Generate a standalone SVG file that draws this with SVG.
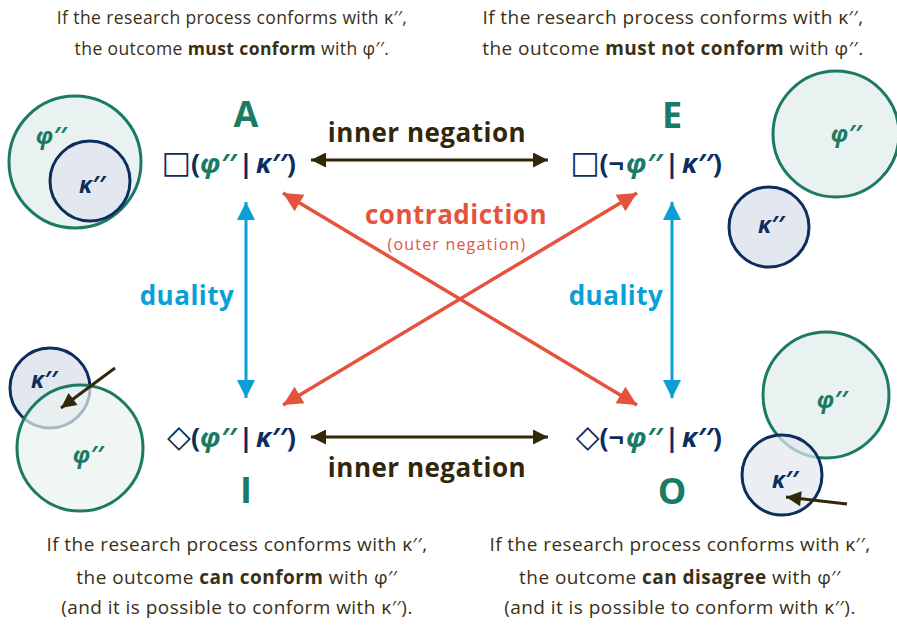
<svg xmlns="http://www.w3.org/2000/svg" width="897" height="625" viewBox="0 0 897 625">
<defs>
<style>
.body{font-family:"Open Sans","Noto Sans",sans-serif;font-size:17.5px;letter-spacing:0.4px;fill:#3b2f16;text-anchor:middle}
.big{font-size:19px;letter-spacing:0.45px}
.b{font-weight:bold}
.f{font-family:"Open Sans","Noto Sans",sans-serif;font-size:27px;font-weight:bold;fill:#0d2d5c}
.it{font-style:italic}
.g{fill:#1a7a63}
.sym{font-family:"DejaVu Sans",sans-serif;font-weight:normal;font-size:31px}
.let{font-family:"Open Sans","Noto Sans",sans-serif;font-size:36px;font-weight:bold;fill:#1a7a63;text-anchor:middle}
.lbl{font-family:"Open Sans","Noto Sans",sans-serif;font-size:26px;font-weight:bold;text-anchor:middle;letter-spacing:0.5px}
.ci{font-family:"Open Sans","Noto Sans",sans-serif;font-size:23px;font-weight:bold;font-style:italic;text-anchor:middle}
.phi{fill:#e9f2f0;stroke:#1a7a63;stroke-width:3}
.kap{fill:#e3e8f0;stroke:#0d2d5c;stroke-width:3}
.brown{stroke:#33270a;stroke-width:3;fill:none}
.red{stroke:#e5533d;stroke-width:3.5;fill:none}
.blue{stroke:#0aa0d6;stroke-width:3;fill:none}
</style>
<marker id="mb" viewBox="0 0 10 10" refX="10" refY="5" markerWidth="6" markerHeight="5" markerUnits="strokeWidth" orient="auto-start-reverse"><path d="M0,0 L10,5 L0,10 z" fill="#33270a"/></marker>
<marker id="mr" viewBox="0 0 10 10" refX="10" refY="5" markerWidth="6.5" markerHeight="5.5" markerUnits="strokeWidth" orient="auto-start-reverse"><path d="M0,0 L10,5 L0,10 z" fill="#e5533d"/></marker>
<marker id="mbl" viewBox="0 0 10 10" refX="10" refY="5" markerWidth="8" markerHeight="6" markerUnits="strokeWidth" orient="auto-start-reverse"><path d="M0,0 L10,5 L0,10 z" fill="#0aa0d6"/></marker>
<marker id="ms" viewBox="0 0 10 10" refX="10" refY="5" markerWidth="6" markerHeight="5" markerUnits="strokeWidth" orient="auto"><path d="M0,0 L10,5 L0,10 z" fill="#33270a"/></marker>
</defs>
<rect width="897" height="625" fill="#ffffff"/>

<g id="captions">
<text class="body" x="232" y="24">If the research process conforms with κ′′,</text>
<text class="body" x="232" y="55">the outcome <tspan class="b">must conform</tspan> with φ′′.</text>
<text class="body big" x="673" y="24">If the research process conforms with κ′′,</text>
<text class="body big" x="673" y="55">the outcome <tspan class="b">must not conform</tspan> with φ′′.</text>
<text class="body big" x="237" y="551">If the research process conforms with κ′′,</text>
<text class="body big" x="237" y="584">the outcome <tspan class="b">can conform</tspan> with φ′′</text>
<text class="body big" x="237" y="614">(and it is possible to conform with κ′′).</text>
<text class="body big" x="680" y="551">If the research process conforms with κ′′,</text>
<text class="body big" x="680" y="584">the outcome <tspan class="b">can disagree</tspan> with φ′′</text>
<text class="body big" x="680" y="614">(and it is possible to conform with κ′′).</text>
</g>

<g id="connectors">
<line class="brown" x1="311" y1="160" x2="548" y2="160" marker-start="url(#mb)" marker-end="url(#mb)"/>
<line class="brown" x1="311" y1="437" x2="548" y2="437" marker-start="url(#mb)" marker-end="url(#mb)"/>
<line class="red" x1="283" y1="193" x2="637" y2="405" marker-start="url(#mr)" marker-end="url(#mr)"/>
<line class="red" x1="637" y1="193" x2="283" y2="405" marker-start="url(#mr)" marker-end="url(#mr)"/>
<line class="blue" x1="246" y1="202" x2="246" y2="398" marker-start="url(#mbl)" marker-end="url(#mbl)"/>
<line class="blue" x1="672" y1="202" x2="672" y2="398" marker-start="url(#mbl)" marker-end="url(#mbl)"/>
<text class="lbl" x="427" y="142" fill="#33270a">inner negation</text>
<text class="lbl" x="427" y="477" fill="#33270a">inner negation</text>
<text class="lbl" x="456" y="224" fill="#e5533d">contradiction</text>
<text x="457" y="250" fill="#e5533d" font-family="'Open Sans','Noto Sans',sans-serif" font-size="16" letter-spacing="1.2" text-anchor="middle">(outer negation)</text>
<text class="lbl" x="187" y="305" fill="#0aa0d6">duality</text>
<text class="lbl" x="616" y="305" fill="#0aa0d6">duality</text>
</g>

<g id="node-A">
<text class="let" x="246" y="127">A</text>
<text class="f" x="236" y="173" text-anchor="end"><tspan class="sym">□</tspan>(<tspan class="g it">φ′′</tspan></text>
<text class="f" x="246" y="173" text-anchor="middle">|</text>
<text class="f" x="256" y="173"><tspan class="it">κ′′</tspan>)</text>
<circle class="phi" cx="75" cy="162" r="66"/>
<circle class="kap" cx="90" cy="181" r="40"/>
<text class="ci g" x="51" y="144">φ′′</text>
<text class="ci" x="92" y="193" fill="#0d2d5c">κ′′</text>
</g>

<g id="node-E">
<text class="let" x="672" y="128">E</text>
<text class="f" x="662" y="173" text-anchor="end"><tspan class="sym">□</tspan>(¬<tspan class="g it" dx="2">φ′′</tspan></text>
<text class="f" x="672" y="173" text-anchor="middle">|</text>
<text class="f" x="682" y="173"><tspan class="it">κ′′</tspan>)</text>
<circle class="phi" cx="836" cy="134" r="63"/>
<circle class="kap" cx="769" cy="227" r="40"/>
<text class="ci g" x="846" y="142">φ′′</text>
<text class="ci" x="771" y="233" fill="#0d2d5c">κ′′</text>
</g>

<g id="node-I">
<text class="let" x="246" y="503">I</text>
<text class="f" x="236" y="447" text-anchor="end"><tspan class="sym">◇</tspan>(<tspan class="g it">φ′′</tspan></text>
<text class="f" x="246" y="447" text-anchor="middle">|</text>
<text class="f" x="256" y="447"><tspan class="it">κ′′</tspan>)</text>
<circle class="kap" cx="50" cy="388" r="40"/>
<circle class="phi" cx="80" cy="448" r="63" fill-opacity="0.7"/>
<text class="ci" x="44" y="388" fill="#0d2d5c">κ′′</text>
<text class="ci g" x="88" y="463">φ′′</text>
<line class="brown" x1="115" y1="368" x2="61" y2="408" stroke-width="2.2" marker-end="url(#ms)"/>
</g>

<g id="node-O">
<text class="let" x="672" y="504">O</text>
<text class="f" x="662" y="447" text-anchor="end"><tspan class="sym">◇</tspan>(¬<tspan class="g it" dx="2">φ′′</tspan></text>
<text class="f" x="672" y="447" text-anchor="middle">|</text>
<text class="f" x="682" y="447"><tspan class="it">κ′′</tspan>)</text>
<circle class="phi" cx="826" cy="395" r="63"/>
<circle class="kap" cx="782" cy="475" r="40" fill-opacity="0.7"/>
<text class="ci g" x="832" y="408">φ′′</text>
<text class="ci" x="785" y="488" fill="#0d2d5c">κ′′</text>
<line class="brown" x1="847" y1="504" x2="786" y2="497" stroke-width="2.2" marker-end="url(#ms)"/>
</g>
</svg>
